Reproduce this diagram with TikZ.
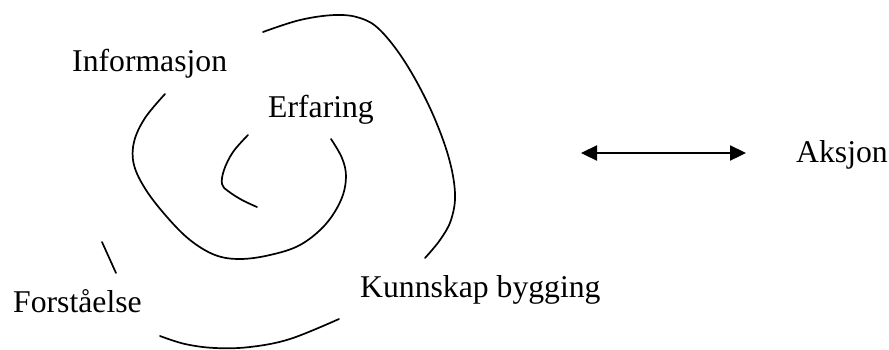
\documentclass[tikz,border=0pt]{standalone}
\usepackage{fontspec}
\setmainfont{Liberation Serif}
\usetikzlibrary{arrows.meta}
\begin{document}
\begin{tikzpicture}[x=1pt,y=-1pt,
  lbl/.style={anchor=base west,inner sep=0pt,font=\fontsize{31.7}{38}\selectfont},
  spiral/.style={line width=1.7pt,line cap=round}]
\useasboundingbox (0,0) rectangle (889,349);
% labels
\node[lbl] (info) at (72,71) {Informasjon};
\node[lbl] (erf) at (268,117) {Erfaring};
\node[lbl] (forst) at (13,312) {Forståelse};
\node[lbl] (kunn) at (360,297) {Kunnskap bygging};
\node[lbl] (aks) at (796,162) {Aksjon};
% spiral pieces
\draw[spiral] plot[smooth,tension=0.6] coordinates {(248,135) (233,152) (224,170) (222,184) (228,191) (242,200) (257,207)};
\draw[spiral] plot[smooth,tension=0.6] coordinates {(165,94) (145,118) (134,142) (134,165) (146,190) (167,217) (190,240) (215,255) (240,259) (270,255) (300,245) (325,225) (341,200) (346,177) (342,158) (331,139)};
\draw[spiral] plot[smooth,tension=0.6] coordinates {(263,32) (300,20) (335,15) (360,18) (380,30) (405,62) (430,108) (448,155) (455,193) (451,220) (440,240) (425,258)};
\draw[spiral] (102,242) -- (116,273);
\draw[spiral] plot[smooth,tension=0.6] coordinates {(160,336) (185,344) (215,348) (250,347) (290,339) (339,319)};
% arrow
\coordinate (al) at (581,153);
\coordinate (ar) at (746,153);
\draw[line width=2.3pt,{Triangle[length=16pt,width=15pt]}-{Triangle[length=16pt,width=15pt]}] (al) -- (ar);
\end{tikzpicture}
\end{document}
